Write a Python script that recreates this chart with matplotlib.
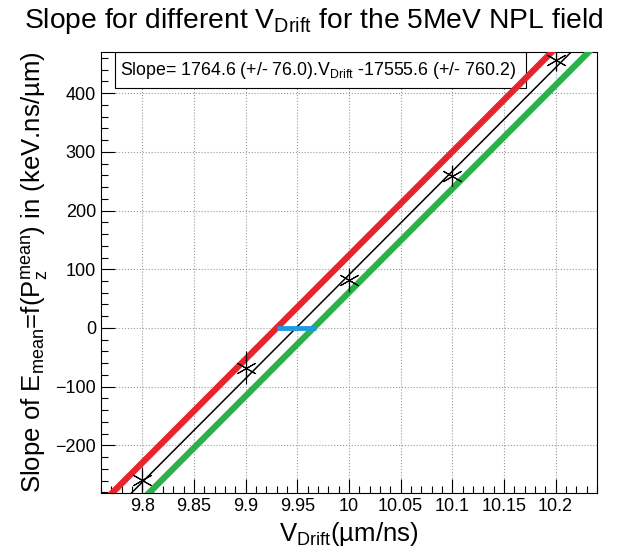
import matplotlib
matplotlib.use("Agg")
import matplotlib.pyplot as plt
from matplotlib.patches import Rectangle
from matplotlib.ticker import MultipleLocator, FuncFormatter
import numpy as np

plt.rcParams['font.family'] = ['Liberation Sans', 'DejaVu Sans']
plt.rcParams['mathtext.fontset'] = 'custom'
plt.rcParams['mathtext.rm'] = 'Liberation Sans'
plt.rcParams['mathtext.it'] = 'Liberation Sans:italic'

# measured points
v_drift = [9.8, 9.9, 10.0, 10.1, 10.2]
slope_vals = [-259, -68, 82, 259, 457]
slope_errs = [22, 28, 20, 18, 20]

# fit and bands (slope, intercept)
fit_line = (1764.6, -17555.6)
upper_line = (1764.6, -17522.5)
lower_line = (1764.6, -17585.5)
zero_range = [9.930, 9.968]

fit_text = r"Slope= 1764.6 (+/- 76.0).V$_{\rm Drift}$ -17555.6 (+/- 760.2)"

fig = plt.figure(figsize=(6.27, 5.53), dpi=100)
ax = fig.add_axes([0.161, 0.1085, 0.791, 0.7975])

xlo, xhi = 9.76, 10.24
ylo, yhi = -281, 470
xs = np.array([xlo, xhi])

for (m, b), col in [(upper_line, '#e8232b'), (lower_line, '#2cb04a')]:
    ax.plot(xs, m * xs + b, color=col, lw=4.5, zorder=3, solid_capstyle='butt')
m, b = fit_line
ax.plot(xs, m * xs + b, color='black', lw=1.1, zorder=4)
ax.plot(zero_range, [0, 0], color='#1f9ae0', lw=3.5, zorder=5, solid_capstyle='butt')

ax.errorbar(v_drift, slope_vals, yerr=slope_errs, fmt='none', ecolor='black',
            elinewidth=0.8, zorder=6)
ax.plot(v_drift, slope_vals, ls='none', marker=(6, 2, 0), ms=15, mec='black',
        mew=0.8, color='black', zorder=6)

ax.set_xlim(xlo, xhi)
ax.set_ylim(ylo, yhi)
ax.xaxis.set_major_locator(MultipleLocator(0.05))
ax.xaxis.set_minor_locator(MultipleLocator(0.01))
ax.yaxis.set_major_locator(MultipleLocator(100))
ax.yaxis.set_minor_locator(MultipleLocator(20))
ax.xaxis.set_major_formatter(FuncFormatter(lambda v, p: f"{v:g}"))
ax.tick_params(which='major', direction='in', length=10, width=0.8, labelsize=13,
               top=False, right=False)
ax.tick_params(which='minor', direction='in', length=5, width=0.8, top=False, right=False)
ax.grid(True, which='major', ls=':', color='#9a9a9a', lw=0.8, zorder=1)

ax.add_patch(Rectangle((0.028, 0.918), 0.829, 0.082, transform=ax.transAxes,
                       facecolor='white', edgecolor='black', lw=0.8, zorder=2))
ax.text(0.038, 0.958, fit_text, transform=ax.transAxes, fontsize=12.8,
        va='center', ha='left', zorder=2.5)

ax.set_xlabel(r"V$_{\rm Drift}$(µm/ns)", fontsize=18.5)
ax.set_ylabel(r"Slope of E$_{\rm mean}$=f(P$_{\rm z}^{\rm mean}$) in (keV.ns/µm)", fontsize=18.5)
fig.suptitle(r"Slope for different V$_{\rm Drift}$ for the 5MeV NPL field", fontsize=20.3, y=0.99)

fig.savefig("out.png", dpi=100)
